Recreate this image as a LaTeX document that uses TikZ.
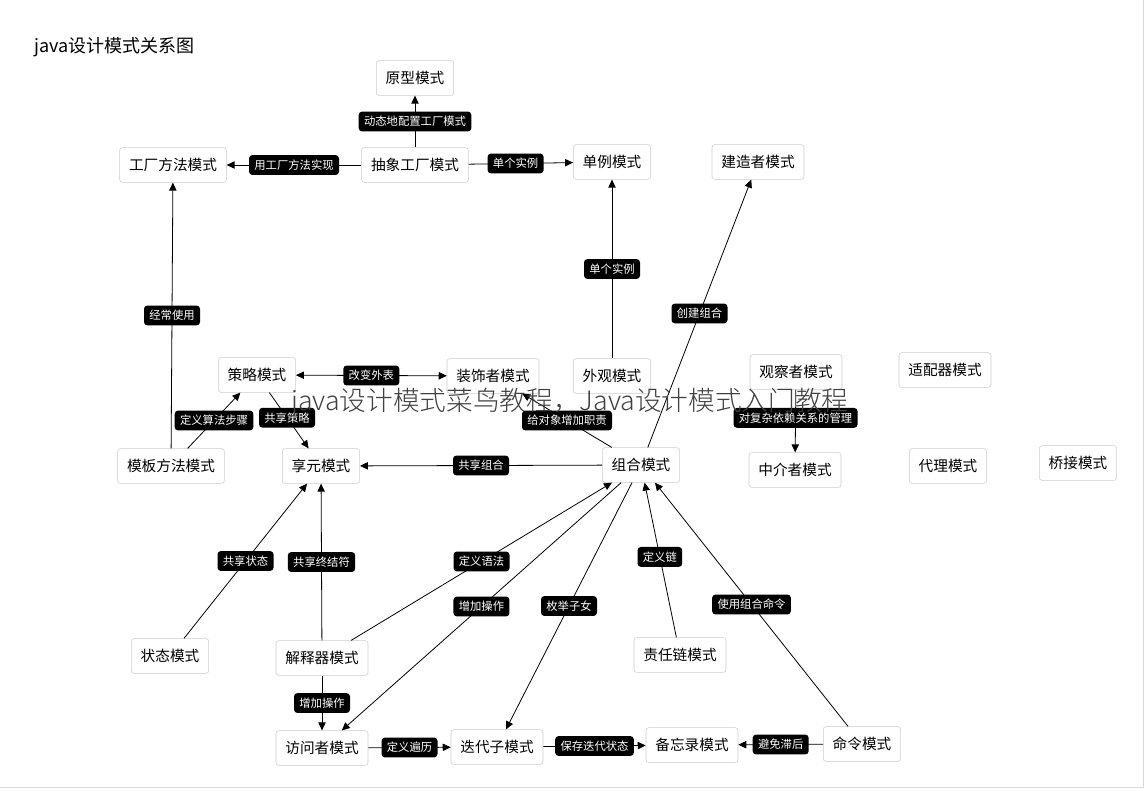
\documentclass[tikz,border=0pt]{standalone}
\usepackage{fontspec}
\setmainfont{Noto Sans CJK SC}
\newfontfamily\wmfont{Noto Sans CJK SC Light}
\usetikzlibrary{arrows.meta}
\begin{document}
\begin{tikzpicture}[x=0.75pt,y=-0.75pt,
  box/.style={draw=black!20,fill=white,rounded corners=2pt,minimum height=26pt,inner xsep=7pt,font=\fontsize{11}{12}\selectfont},
  lab/.style={fill=black,text=white,rounded corners=2.5pt,inner xsep=4pt,inner ysep=3.5pt,font=\fontsize{8.5}{9}\selectfont},
  arr/.style={-{Triangle[length=6pt,width=5.5pt]},line width=0.6pt},
  ln/.style={line width=0.6pt}]
\useasboundingbox (0,0) rectangle (1145,790);
\draw[black!15] (1143,0) -- (1143,787) -- (0,787);
\node[anchor=west,font=\fontsize{13.5}{14}\selectfont] (title) at (30,47) {java设计模式关系图};
\node[box] (yx) at (415,78) {原型模式};
\node[box] (gc) at (173,165) {工厂方法模式};
\node[box] (cx) at (415,165) {抽象工厂模式};
\node[box] (dl) at (612,162) {单例模式};
\node[box] (jz) at (758,162) {建造者模式};
\node[box] (cl) at (257,375) {策略模式};
\node[box] (zs) at (493,376) {装饰者模式};
\node[box] (wg) at (612,376) {外观模式};
\node[box] (gcz) at (796,372) {观察者模式};
\node[box] (sp) at (945,370) {适配器模式};
\node[box] (mb) at (171,466) {模板方法模式};
\node[box] (xy) at (321,466) {享元模式};
\node[box] (zh) at (641,465) {组合模式};
\node[box] (zj) at (795,470) {中介者模式};
\node[box] (dlm) at (948,466) {代理模式};
\node[box] (qj) at (1078,463) {桥接模式};
\node[box] (zt) at (170,656) {状态模式};
\node[box] (js) at (322,658) {解释器模式};
\node[box] (zr) at (680,655) {责任链模式};
\node[box] (fw) at (322,748) {访问者模式};
\node[box] (dd) at (497,747) {迭代子模式};
\node[box] (bw) at (692,745) {备忘录模式};
\node[box] (ml) at (862,744) {命令模式};
% edges
\draw[arr] (cx) -- node[lab]{动态地配置工厂模式} (yx);
\draw[arr] (cx) -- node[lab]{用工厂方法实现} (gc);
\draw[arr] (cx) -- node[lab,pos=0.45]{单个实例} (dl);
\draw[arr] (wg) -- node[lab]{单个实例} (dl);
\draw[arr] (zh) -- node[lab]{创建组合} (jz);
\draw[arr] (mb) -- node[lab,pos=0.5]{经常使用} (gc);
\draw[arr,{Triangle[length=6pt,width=5.5pt]}-{Triangle[length=6pt,width=5.5pt]}] (cl) -- node[lab]{改变外表} (zs);
\draw[arr] (mb) -- node[lab]{定义算法步骤} (cl);
\draw[arr] (cl) -- node[lab,pos=0.45]{共享策略} (xy);
\draw[arr] (zh) -- node[lab]{给对象增加职责} (zs);
\draw[arr] (gcz) -- node[lab,pos=0.45]{对复杂依赖关系的管理} (zj);
\draw[arr] (zh) -- node[lab]{共享组合} (xy);
\draw[arr] (zt) -- node[lab]{共享状态} (xy);
\draw[arr] (js) -- node[lab]{共享终结符} (xy);
\draw[arr] (js) -- node[lab,pos=0.5]{定义语法} (zh);
\draw[arr] (zh) -- node[lab,pos=0.5]{增加操作} (fw);
\draw[arr] (zh) -- node[lab,pos=0.5]{枚举子女} (dd);
\draw[arr] (zr) -- node[lab,pos=0.52]{定义链} (zh);
\draw[arr] (ml) -- node[lab,pos=0.5]{使用组合命令} (zh);
\draw[arr] (js) -- node[lab]{增加操作} (fw);
\draw[arr] (fw) -- node[lab]{定义遍历} (dd);
\draw[arr] (dd) -- node[lab]{保存迭代状态} (bw);
\draw[arr] (ml) -- node[lab]{避免滞后} (bw);
\node[text=black!75,font=\wmfont\fontsize{20}{22}\selectfont] (wm) at (570,403) {java设计模式菜鸟教程，Java设计模式入门教程};
\end{tikzpicture}
\end{document}
